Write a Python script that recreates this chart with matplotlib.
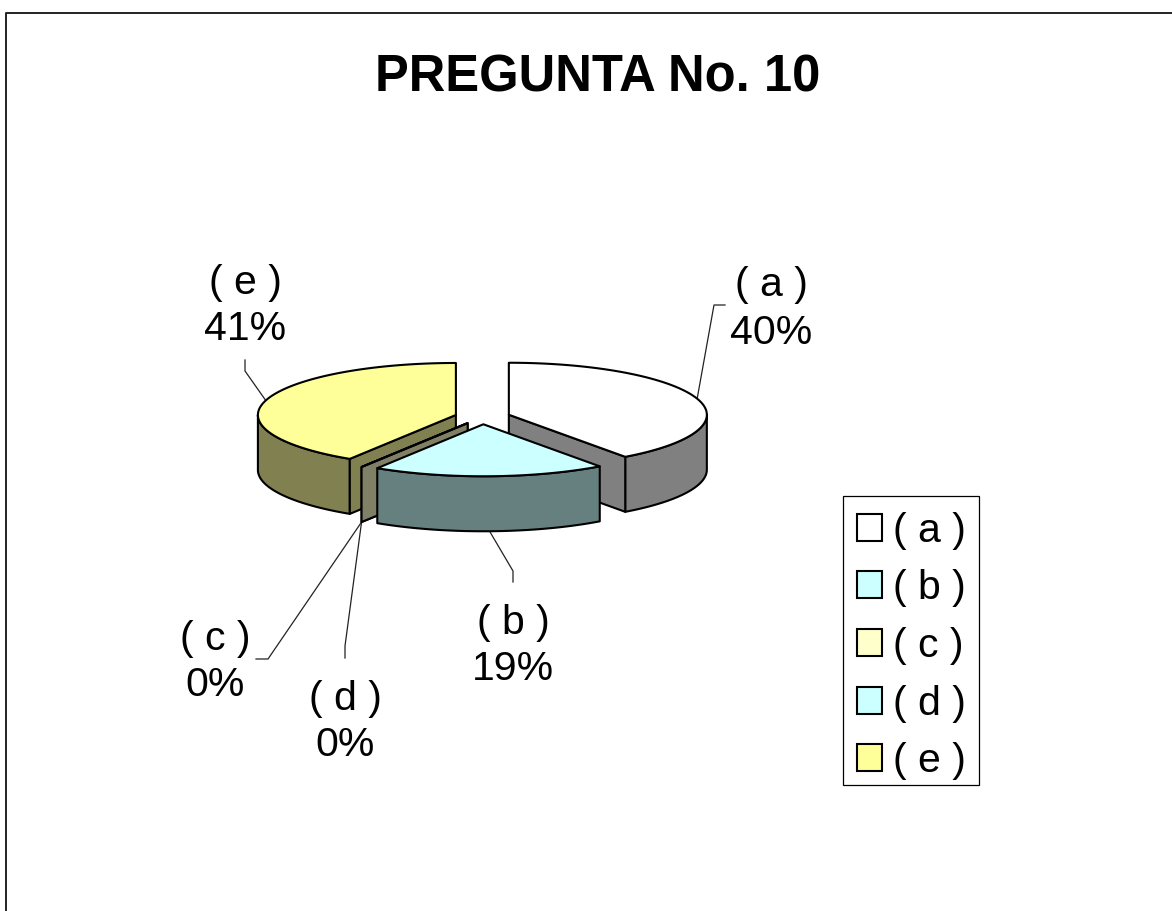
import numpy as np
import matplotlib
matplotlib.use('Agg')
import matplotlib.pyplot as plt
from matplotlib.patches import Polygon, Patch, Rectangle

plt.rcParams['font.family'] = ['Liberation Sans', 'DejaVu Sans']

title = 'PREGUNTA No. 10'
categories = ['( a )', '( b )', '( c )', '( d )', '( e )']
values = [40, 19, 0, 0, 41]
colors = ['#FFFFFF', '#CCFFFF', '#FFFFCC', '#CCFFFF', '#FFFF99']
dark_colors = ['#808080', '#668080', '#808066', '#668080', '#808050']

# pie geometry, in pixels of the picture
cx, cy = 482.5, 417
rx, ry = 198, 52
depth = 55
explode = 27.7

label_pos = [(771, 309), (513, 646), (215, 662), (345, 722), (245, 306)]
elbows = [[(725, 305), (714, 305)], [(513, 582), (513, 571)], [(256, 659), (268, 659)],
          [(345, 658), (345, 646)], [(245, 360), (245, 371)]]

fig = plt.figure(figsize=(11.72, 9.11), dpi=100)
ax = fig.add_axes([0, 0, 1, 1])
ax.set_xlim(0, 1172)
ax.set_ylim(911, 0)
ax.axis('off')

# frame of the chart area, runs off the right and bottom of the picture
ax.plot([6, 6, 1180], [920, 12.5, 12.5], color='#222222', lw=1.4, zorder=1)

ax.text(597.5, 73, title, ha='center', va='center_baseline', fontsize=36.5, fontweight='bold')


def pt(ox, oy, t, r=1.0):
    return ox + rx * r * np.sin(t), oy - ry * r * np.cos(t)


def draw_slice(ox, oy, t0, t1, col, dark):
    # outer rim, only the part on the viewer's side
    lo, hi = max(t0, np.pi / 2), min(t1, 1.5 * np.pi)
    if hi > lo:
        ts = np.linspace(lo, hi, 60)
        xs, ys = pt(ox, oy, ts)
        poly = np.r_[np.c_[xs, ys], np.c_[xs, ys + depth][::-1]]
        ax.add_patch(Polygon(poly, fc=dark, ec='black', lw=1.5, joinstyle='round', zorder=3))
    # cut faces
    for t, show in ((t1, np.sin(t1) > 0), (t0, np.sin(t0) < 0)):
        if show:
            x, y = pt(ox, oy, t)
            face = [(ox, oy), (x, y), (x, y + depth), (ox, oy + depth)]
            ax.add_patch(Polygon(face, fc=dark, ec='black', lw=1.5, joinstyle='round', zorder=3))
    # top
    ts = np.linspace(t0, t1, 120)
    xs, ys = pt(ox, oy, ts)
    top = np.r_[[(ox, oy)], np.c_[xs, ys]]
    ax.add_patch(Polygon(top, fc=col, ec='black', lw=1.5, joinstyle='round', zorder=3))


fracs = np.array(values) / sum(values)
ends = np.cumsum(fracs) * 2 * np.pi
starts = ends - fracs * 2 * np.pi
mids = (starts + ends) / 2

# painter's order: back slices first
order = [0, 4, 3, 2, 1]
origins = {}
for i in order:
    ox, oy = pt(cx, cy, mids[i], explode / rx)
    origins[i] = (ox, oy)
    draw_slice(ox, oy, starts[i], ends[i], colors[i], dark_colors[i])

for i in range(len(values)):
    ox, oy = origins[i]
    x, y = pt(ox, oy, mids[i])
    if np.cos(mids[i]) < 0:
        y += depth
    line = elbows[i] + [(x, y)]
    ax.plot(*zip(*line), color='#222222', lw=0.9, zorder=2)
    ax.text(label_pos[i][0], label_pos[i][1], f'{categories[i]}\n{values[i]}%',
            ha='center', va='center', fontsize=29.5, linespacing=1.3, zorder=4)

# legend box is tighter at the bottom than a matplotlib frame, so drawn apart
ax.add_patch(Rectangle((843, 496), 136, 289, fc='white', ec='black', lw=0.9, zorder=2))
handles = [Patch(fc=c, ec='black', lw=1.5) for c in colors]
leg = ax.legend(handles, categories, loc='upper left', bbox_to_anchor=(843, 498),
                bbox_transform=ax.transData, borderaxespad=0, fontsize=29.5, frameon=False,
                handlelength=0.63, handleheight=0.63, handletextpad=0.25,
                labelspacing=0.48, borderpad=0.33)
leg.set_zorder(5)

fig.savefig('out.png', dpi=100)
